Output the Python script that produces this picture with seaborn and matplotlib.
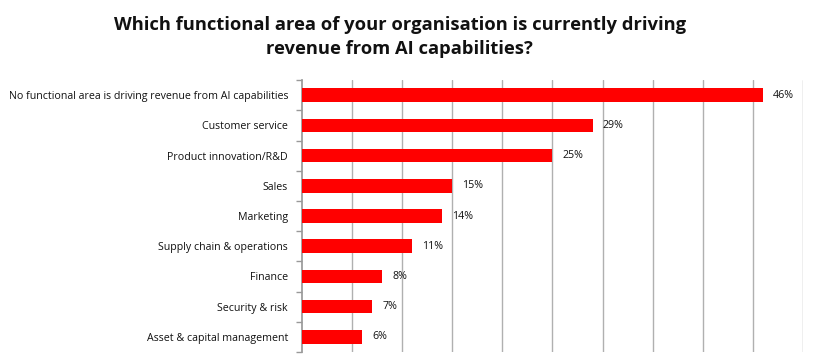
import matplotlib.pyplot as plt
import seaborn as sns
import pandas as pd

# data
areas = ['No functional area is driving revenue from AI capabilities',
         'Customer service', 'Product innovation/R&D', 'Sales', 'Marketing',
         'Supply chain & operations', 'Finance', 'Security & risk',
         'Asset & capital management']
pct = [46, 29, 25, 15, 14, 11, 8, 7, 6]

df = pd.DataFrame({'area': areas, 'pct': pct})

sns.set_theme(style="white")
plt.rcParams['font.family'] = ['Open Sans', 'DejaVu Sans']

fig = plt.figure(figsize=(8.16, 3.64), dpi=100)
ax = fig.add_axes([0.370, 0.033, 0.614, 0.747])

sns.barplot(data=df, x='pct', y='area', color='#ff0000', width=0.45,
            saturation=1, linewidth=0, ax=ax, zorder=3)

ax.set_xlim(0, 50)
ax.set_ylim(len(areas) - 0.5, -0.5)
ax.set_xticks(range(5, 51, 5))
ax.set_xticklabels([])
ax.tick_params(axis='x', length=0)
ax.grid(axis='x', color='#b0b0b0', linewidth=1, zorder=0)
ax.set_xlabel('')
ax.set_ylabel('')

# y tick marks sit between categories
ax.tick_params(axis='y', which='major', length=0, pad=10, labelsize=7.7, labelcolor='#111111')
ax.set_yticks([i + 0.5 for i in range(-1, len(areas))], minor=True)
ax.tick_params(axis='y', which='minor', length=4, color='#999999', width=1, direction='out', left=True)

for s in ['top', 'right', 'bottom']:
    ax.spines[s].set_visible(False)
ax.spines['left'].set_color('#999999')

for i, v in enumerate(pct):
    ax.text(v + 1, i, f'{v}%', va='center', ha='left', fontsize=7.7, color='#111111')

fig.text(0.49, 0.955, 'Which functional area of your organisation is currently driving\nrevenue from AI capabilities?',
         ha='center', va='top', fontsize=13.2, fontweight='bold', color='#111111', linespacing=1.4)

plt.savefig('out.png', dpi=100)
